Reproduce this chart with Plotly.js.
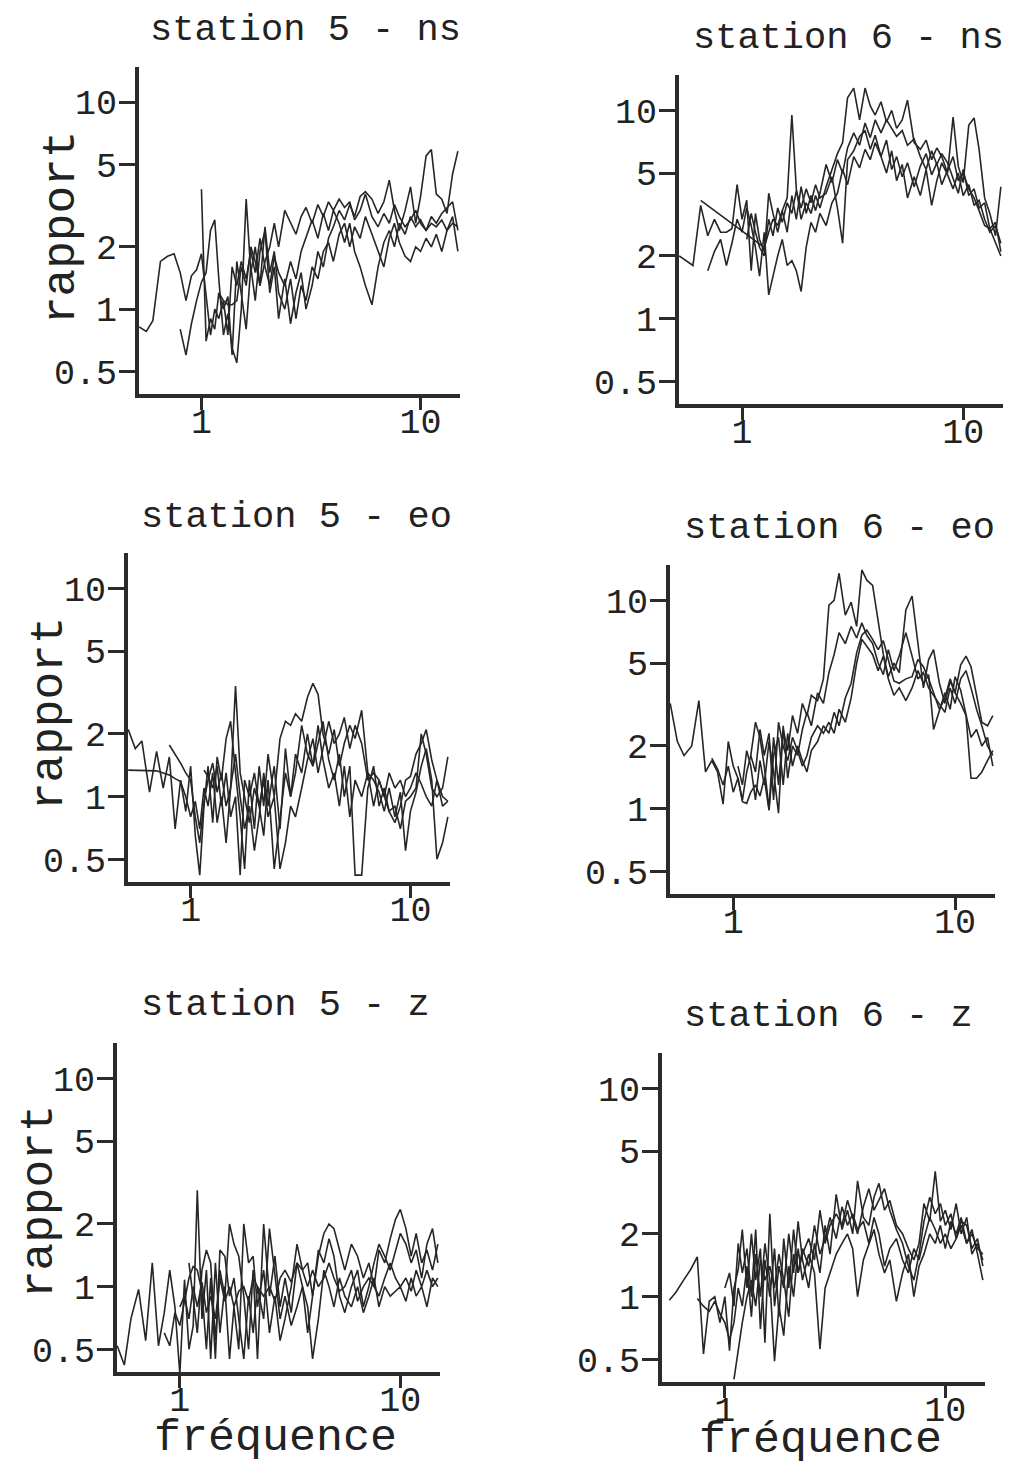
<!DOCTYPE html>
<html>
<head>
<meta charset="utf-8">
<script src="https://cdn.plot.ly/plotly-3.0.1.min.js"></script>
<style>html,body{margin:0;padding:0;background:#fff;}#chart{width:1029px;height:1468px;}</style>
</head>
<body>
<div id="chart"></div>
<script>
const _ = null;
// frequency grid (Hz)
const freq = [0.52,0.56,0.6,0.65,0.7,0.75,0.8,0.85,0.9,0.95,
  1.0,1.05,1.1,1.15,1.2,1.26,1.32,1.38,1.45,1.52,
  1.6,1.68,1.76,1.85,1.95,2.05,2.15,2.25,2.4,2.55,
  2.7,2.85,3.0,3.2,3.4,3.6,3.8,4.0,4.25,4.5,
  4.75,5.0,5.3,5.6,6.0,6.4,6.8,7.2,7.6,8.0,
  8.5,9.0,9.5,10.0,10.6,11.2,11.8,12.5,13.2,14.0,
  14.8];

// station 5 - ns
const s5ns_a = [0.82,0.78,0.88,1.7,1.8,1.85,1.5,1.1,1.45,1.55,
  1.85,1.2,0.75,1.0,0.9,1.1,0.75,1.6,1.3,1.7,
  1.4,1.9,1.5,2.2,1.6,1.3,1.8,1.5,1.3,1.7,
  1.4,1.9,2.2,2.7,2.2,2.9,2.4,3.0,2.6,2.1,
  2.6,1.9,1.6,1.3,1.05,1.6,2.1,2.4,2.0,2.6,
  2.3,2.8,2.5,2.7,2.4,2.6,2.5,2.7,2.4,2.6,
  2.5];
const s5ns_b = [_,_,_,_,_,_,0.8,0.6,0.85,1.1,
  1.35,1.5,2.4,2.7,1.4,0.75,0.95,0.65,0.55,1.0,
  3.4,1.5,2.0,1.3,2.5,1.5,1.9,1.2,1.0,1.4,
  0.9,1.3,1.1,1.6,1.4,1.9,2.1,1.7,2.3,2.6,
  2.0,2.5,2.2,2.8,2.3,1.9,1.6,2.2,2.6,2.1,
  1.8,1.7,2.0,1.9,2.2,2.0,2.3,1.9,2.4,2.8,
  1.9];
const s5ns_c = [_,_,_,_,_,_,_,_,_,_,
  3.8,0.7,0.9,0.8,1.2,1.0,1.15,0.6,1.7,1.2,
  0.8,1.6,1.1,1.9,2.4,1.2,1.6,0.9,1.4,0.85,
  1.2,1.5,1.0,1.3,1.9,1.6,2.2,2.5,3.0,2.7,
  3.2,2.8,3.5,3.7,3.4,2.9,3.3,4.2,3.0,2.4,
  3.0,3.9,2.6,3.5,5.5,5.9,3.6,3.4,2.9,4.5,
  5.8];
const s5ns_d = [_,_,_,_,_,_,_,_,_,_,
  _,_,_,_,1.2,1.1,1.05,1.05,1.1,1.6,
  1.3,2.0,1.7,1.3,1.7,2.0,2.6,2.0,3.0,2.6,
  2.3,2.8,3.1,2.6,3.2,2.8,3.3,3.0,3.4,3.1,
  3.3,2.7,3.0,3.6,2.8,2.5,2.9,2.6,3.2,2.8,
  2.5,2.7,3.0,2.6,2.4,2.8,2.6,2.9,3.1,3.3,
  2.4];

// station 6 - ns
const s6ns_a = [2.0,1.9,1.8,3.5,2.5,3.0,2.6,2.6,2.7,4.4,
  3.0,3.7,1.7,3.2,2.4,2.1,3.0,2.5,3.4,2.9,
  3.6,3.2,4.1,3.4,4.2,3.6,4.4,3.8,4.0,4.8,
  3.4,2.3,5.8,6.4,7.5,8.0,6.5,7.6,6.0,7.2,
  5.2,6.0,4.8,5.6,4.3,5.4,6.2,4.9,5.6,4.4,
  5.2,6.0,4.6,5.0,4.2,3.8,3.3,2.8,2.7,2.3,
  2.0];
const s6ns_b = [_,_,_,3.7,_,_,_,_,_,_,
  _,_,_,_,_,2.2,2.6,3.0,2.8,3.3,
  3.8,9.5,4.2,3.0,3.6,3.2,3.9,3.4,4.3,5.2,
  6.2,7.0,11.5,12.8,9.0,12.8,10.5,9.5,11.0,8.8,
  10.0,8.2,9.0,11.2,7.0,6.5,7.2,5.8,6.6,6.0,
  5.0,9.3,5.4,4.5,8.5,9.2,6.5,3.8,3.2,2.5,
  4.3];
const s6ns_c = [_,_,_,_,1.7,2.1,2.4,1.8,2.3,3.0,
  2.6,3.4,2.8,2.2,1.6,2.6,1.3,1.6,2.0,2.4,
  1.8,1.9,1.7,1.35,2.2,2.9,2.6,3.2,2.8,3.6,
  4.0,5.2,4.4,6.0,5.3,6.5,5.8,7.0,6.0,5.0,
  6.4,4.6,5.5,3.8,4.8,3.9,5.2,3.5,4.6,5.6,
  4.9,4.2,5.0,3.9,4.4,3.5,3.7,3.0,2.6,2.8,
  2.3];
const s6ns_d = [_,_,_,_,_,_,_,_,_,_,
  _,2.4,3.2,2.6,2.2,2.0,4.0,3.2,2.6,3.3,
  2.6,3.9,3.0,4.3,3.2,3.9,3.3,4.0,5.5,4.5,
  5.8,5.0,6.6,7.8,6.8,8.7,7.4,9.0,7.8,9.0,
  8.2,7.5,8.0,6.8,7.3,6.0,5.2,6.4,5.5,6.2,
  5.6,4.7,4.0,5.2,3.9,4.2,3.4,3.6,2.7,2.9,
  2.1];

// station 5 - eo
const s5eo_a = [2.1,1.7,1.85,1.05,1.65,1.1,1.55,0.7,1.2,0.85,
  1.4,0.65,0.42,0.9,1.4,0.75,1.55,1.2,1.9,2.3,
  1.3,0.8,0.45,1.2,0.7,1.4,0.9,1.6,1.0,1.9,
  2.3,2.2,2.5,2.3,3.0,3.5,3.1,2.0,1.6,2.1,
  1.4,1.8,2.2,1.9,2.6,1.3,1.2,1.05,0.85,1.1,
  0.8,1.05,0.55,0.85,1.05,1.4,1.7,1.2,0.5,0.6,
  0.8];
const s5eo_b = [1.34,1.34,1.34,1.33,1.33,1.3,1.27,1.22,1.18,1.0,
  0.8,0.95,0.7,1.1,0.9,1.3,0.75,1.0,0.6,1.1,
  1.6,1.0,0.7,0.9,0.55,0.8,1.3,0.9,1.4,0.7,
  1.7,1.0,1.6,1.3,2.0,1.4,2.2,1.5,1.1,1.3,
  0.9,1.4,0.8,1.2,1.0,1.3,0.9,1.2,1.0,1.3,
  1.1,1.2,1.0,1.1,1.3,1.15,1.0,0.9,1.2,0.9,
  0.95];
const s5eo_c = [_,_,_,_,_,_,1.77,1.6,1.45,1.3,
  1.2,0.8,0.6,0.95,1.2,1.45,1.05,1.3,0.9,1.1,
  3.4,1.3,1.0,0.75,1.1,0.9,0.65,1.2,0.45,0.8,
  1.3,1.0,1.3,2.2,1.6,1.4,1.8,2.3,1.5,1.2,
  1.6,1.0,1.4,0.42,0.42,1.1,1.4,0.9,1.1,0.85,
  0.9,0.7,0.95,1.0,1.1,2.0,1.6,1.1,1.0,1.1,
  1.55];
const s5eo_d = [_,_,_,_,_,_,_,_,_,_,
  _,_,_,1.34,1.25,1.1,1.4,0.9,1.3,0.8,
  1.0,0.42,1.2,1.0,1.3,0.9,1.2,0.8,1.0,0.45,
  0.6,0.9,0.8,1.1,1.5,1.9,1.3,1.7,2.3,1.8,
  2.0,2.4,1.7,2.2,1.8,1.2,1.3,1.2,1.0,0.85,
  0.75,0.9,1.2,1.25,1.6,1.8,2.1,1.5,1.2,1.0,
  0.95];

// station 6 - eo
const s6eo_a = [3.2,2.1,1.8,2.0,3.3,1.5,1.7,1.5,1.05,2.1,
  1.6,1.4,1.1,1.5,1.8,2.6,2.2,1.6,1.0,2.2,
  1.3,2.4,1.9,2.8,2.3,3.2,2.8,3.5,3.3,4.2,
  9.5,10.0,13.5,8.5,9.8,7.5,14.0,12.5,11.8,8.0,
  5.5,4.3,5.0,4.5,9.0,10.5,6.0,3.8,5.2,5.8,
  4.0,3.2,4.1,3.6,4.9,5.4,4.8,3.5,2.6,2.5,
  2.8];
const s6eo_b = [_,_,_,_,_,_,1.75,1.55,1.3,1.6,
  1.2,1.4,1.08,1.06,1.2,1.3,1.15,1.4,0.98,1.8,
  2.2,1.3,2.3,1.6,2.0,1.7,1.5,1.9,2.1,2.5,
  2.3,2.9,2.5,3.4,4.0,5.6,6.8,7.2,6.5,5.8,
  6.4,5.2,4.1,4.0,4.2,4.3,5.2,4.8,4.2,3.6,
  3.0,3.4,4.2,3.6,3.2,2.8,1.4,1.4,1.5,1.7,
  1.9];
const s6eo_c = [_,_,_,_,_,_,_,_,_,_,
  _,1.6,1.3,1.9,1.6,1.1,1.7,1.3,2.1,1.5,
  0.95,2.5,1.4,2.0,1.8,2.4,2.9,2.5,3.6,3.2,
  4.5,5.5,7.0,6.2,7.5,6.6,7.8,6.8,6.2,5.0,
  4.4,5.8,4.6,5.4,7.0,5.4,4.2,4.5,3.8,3.5,
  3.2,2.9,3.8,3.2,4.2,4.6,3.8,3.0,2.5,2.0,
  1.8];
const s6eo_d = [_,_,_,_,_,_,_,_,_,_,
  _,_,_,_,1.8,1.5,2.4,1.8,2.3,1.1,
  2.6,2.0,1.7,2.2,1.9,1.6,1.8,2.2,2.5,2.3,
  2.6,2.3,3.0,2.6,3.4,5.0,6.5,6.0,5.5,4.6,
  5.4,4.2,3.5,3.8,3.3,3.8,4.6,4.0,4.4,2.4,
  3.0,3.6,3.0,4.3,3.7,2.8,2.2,2.4,2.0,2.2,
  1.6];

// station 5 - z
const s5z_a = [0.52,0.42,0.7,0.97,0.55,1.3,0.52,0.75,1.2,0.8,
  0.38,1.08,0.5,0.65,2.9,0.7,1.2,0.45,1.3,0.6,
  1.0,0.45,0.8,0.5,2.0,1.3,1.4,0.8,1.2,0.6,
  0.9,0.55,0.7,1.0,1.6,1.2,1.3,0.9,1.4,1.8,
  2.0,1.9,1.5,1.2,1.6,1.4,1.1,1.3,1.0,1.5,
  1.3,1.7,2.1,2.35,1.9,1.4,1.8,1.3,1.5,1.2,
  1.6];
const s5z_b = [_,_,_,_,_,_,_,0.6,0.52,0.75,
  0.65,0.85,1.1,1.25,1.2,0.95,0.5,1.1,0.45,1.5,
  1.4,0.9,1.1,0.7,0.45,0.9,0.6,1.0,0.7,1.9,
  1.1,0.7,0.9,0.65,0.8,1.0,0.8,0.45,0.7,1.2,
  1.0,0.8,1.1,0.9,0.8,1.0,0.75,0.9,1.1,0.8,
  1.0,0.9,0.95,1.0,0.85,1.1,0.9,1.0,0.8,1.1,
  1.0];
const s5z_c = [_,_,_,_,_,_,_,_,_,_,
  0.8,0.9,0.7,1.0,0.8,1.05,0.75,0.9,0.7,1.1,
  0.85,1.0,0.8,0.95,1.0,0.85,1.1,1.0,0.9,1.0,
  0.85,1.1,1.2,1.05,1.3,1.2,1.0,1.2,1.0,1.1,
  1.3,1.1,0.95,1.0,1.2,0.85,1.0,1.1,1.0,0.9,
  1.1,1.3,1.1,1.0,1.1,0.95,1.2,1.0,1.2,1.0,
  1.1];
const s5z_d = [_,_,_,_,_,_,_,_,_,_,
  _,_,1.3,0.9,0.6,1.2,1.5,1.3,0.55,1.2,
  0.9,2.0,1.6,1.4,0.9,0.5,1.2,0.45,2.0,0.9,
  1.4,0.8,1.1,0.75,1.3,1.0,0.6,0.9,1.5,1.3,
  1.7,1.4,0.9,0.75,1.0,1.2,0.8,1.0,1.3,1.6,
  1.4,1.2,1.5,1.8,1.6,1.3,1.5,1.1,1.6,1.9,
  1.3];

// station 6 - z
const s6z_a = [_,0.96,1.05,1.2,1.35,1.55,0.53,0.95,1.0,0.75,
  1.0,0.55,1.1,1.35,2.1,1.1,2.0,1.2,1.7,0.6,
  2.5,0.9,1.4,1.1,2.0,1.3,2.3,1.5,1.1,1.8,
  1.3,2.2,1.6,3.1,2.1,2.6,2.0,3.6,2.4,2.2,
  3.0,3.5,2.6,2.9,2.2,2.0,1.7,1.5,1.8,2.8,
  2.3,4.0,2.3,2.6,2.1,2.8,2.0,2.4,1.6,1.8,
  1.5];
const s6z_b = [_,_,_,_,_,0.98,0.9,0.85,0.95,0.83,
  0.75,0.62,0.75,1.1,0.9,1.4,0.8,1.6,1.0,1.8,
  1.2,0.49,0.9,0.65,1.4,1.0,1.7,1.2,1.6,1.3,
  0.56,1.1,1.3,1.6,1.8,2.0,1.7,1.0,1.5,1.8,
  2.1,1.6,1.3,1.5,0.95,1.3,1.6,1.0,1.4,1.6,
  2.0,1.8,2.2,1.7,2.3,2.0,2.4,1.8,2.1,1.6,
  1.2];
const s6z_c = [_,_,_,_,_,_,_,_,_,_,
  _,_,0.4,0.55,0.75,1.0,1.2,0.9,1.5,1.2,
  1.4,1.1,1.6,1.2,0.8,1.6,1.3,1.7,1.4,2.2,
  1.6,1.9,2.4,1.9,2.7,2.2,2.5,2.1,2.3,1.8,
  2.4,2.0,1.4,1.7,1.9,1.5,1.3,1.7,1.5,1.9,
  2.4,2.1,1.8,2.0,1.7,1.9,2.2,1.8,2.0,1.7,
  1.6];
const s6z_d = [_,_,_,_,_,_,_,_,_,_,
  1.1,1.3,0.9,1.8,1.3,1.7,1.0,2.1,0.7,1.5,
  1.0,1.7,0.8,1.9,1.1,2.1,1.3,1.6,1.9,1.5,
  2.6,1.8,2.2,2.5,2.2,2.9,2.4,2.0,2.7,3.3,
  2.6,2.9,3.3,2.6,2.1,1.8,1.4,1.2,1.6,2.3,
  3.0,2.5,2.8,2.2,2.5,1.9,2.3,2.2,1.7,1.9,
  1.4];

const panelTitles = ['station 5 - ns','station 6 - ns','station 5 - eo','station 6 - eo','station 5 - z','station 6 - z'];
const panelSeries = [
  [s5ns_a,s5ns_b,s5ns_c,s5ns_d],
  [s6ns_a,s6ns_b,s6ns_c,s6ns_d],
  [s5eo_a,s5eo_b,s5eo_c,s5eo_d],
  [s6eo_a,s6eo_b,s6eo_c,s6eo_d],
  [s5z_a,s5z_b,s5z_c,s5z_d],
  [s6z_a,s6z_b,s6z_c,s6z_d]
];
const yTickVals = [0.5,1,2,5,10];
const yTickText = ['0.5','1','2','5','10'];
const xTickVals = [1,10];
const xTickText = ['1','10'];
const yLabel = 'rapport';
const xLabel = 'fréquence';

// layout geometry (pixels)
const W = 1029, H = 1468;
const boxes = [
  {l:139,r:460,t:67,b:394, tx:305,ty:30},
  {l:679,r:1003,t:75,b:404, tx:848,ty:38},
  {l:128,r:450,t:553,b:882, tx:296,ty:517},
  {l:670,r:995,t:565,b:894, tx:839,ty:528},
  {l:117,r:440,t:1043,b:1372, tx:285,ty:1005},
  {l:662,r:985,t:1053,b:1382, tx:828,ty:1016}
];
const FONT = 'Liberation Mono, Courier New, monospace';
const INK = '#2b2b2b';

const traces = [];
const layout = {
  width: W, height: H,
  margin: {l:0,r:0,t:0,b:0},
  paper_bgcolor: '#ffffff', plot_bgcolor: 'rgba(0,0,0,0)',
  showlegend: false,
  annotations: []
};

boxes.forEach((bx, i) => {
  const k = i + 1;
  const xa = 'xaxis' + (k === 1 ? '' : k);
  const ya = 'yaxis' + (k === 1 ? '' : k);
  const xr = 'x' + (k === 1 ? '' : k);
  const yr = 'y' + (k === 1 ? '' : k);
  panelSeries[i].forEach(s => {
    traces.push({
      type: 'scatter', mode: 'lines', x: freq, y: s,
      xaxis: xr, yaxis: yr, connectgaps: true,
      line: {color: '#262626', width: 1.6}, hoverinfo: 'skip'
    });
  });
  layout[xa] = {
    type: 'log', domain: [bx.l / W, bx.r / W], anchor: yr,
    range: [-0.285, 1.18],
    showline: true, linewidth: 4, linecolor: INK,
    ticks: 'outside', ticklen: 12, tickwidth: 3, tickcolor: INK,
    ticklabelstandoff: -19,
    tickvals: xTickVals, ticktext: xTickText,
    tickfont: {family: FONT, size: 35, color: '#222'},
    showgrid: false, zeroline: false
  };
  layout[ya] = {
    type: 'log', domain: [1 - bx.b / H, 1 - bx.t / H], anchor: xr,
    range: [-0.41, 1.17],
    showline: true, linewidth: 4, linecolor: INK,
    ticks: 'outside', ticklen: 16, tickwidth: 3, tickcolor: INK,
    ticklabelstandoff: -5,
    tickvals: yTickVals, ticktext: yTickText,
    tickfont: {family: FONT, size: 35, color: '#222'},
    showgrid: false, zeroline: false
  };
  layout.annotations.push({
    text: panelTitles[i], xref: 'paper', yref: 'paper',
    x: bx.tx / W, y: 1 - bx.ty / H, xanchor: 'center', yanchor: 'middle',
    showarrow: false, font: {family: FONT, size: 37, color: '#222'}
  });
});

// y-axis titles (left column)
[[62,228],[50,714],[40,1202]].forEach(p => {
  layout.annotations.push({
    text: yLabel, xref: 'paper', yref: 'paper', textangle: -90,
    x: p[0] / W, y: 1 - p[1] / H, xanchor: 'center', yanchor: 'middle',
    showarrow: false, font: {family: FONT, size: 46, color: '#222'}
  });
});
// x-axis titles (bottom row)
[[275,1438],[820,1440]].forEach(p => {
  layout.annotations.push({
    text: xLabel, xref: 'paper', yref: 'paper',
    x: p[0] / W, y: 1 - p[1] / H, xanchor: 'center', yanchor: 'middle',
    showarrow: false, font: {family: FONT, size: 45, color: '#222'}
  });
});

Plotly.newPlot('chart', traces, layout, {staticPlot: true, displayModeBar: false});
</script>
</body>
</html>
